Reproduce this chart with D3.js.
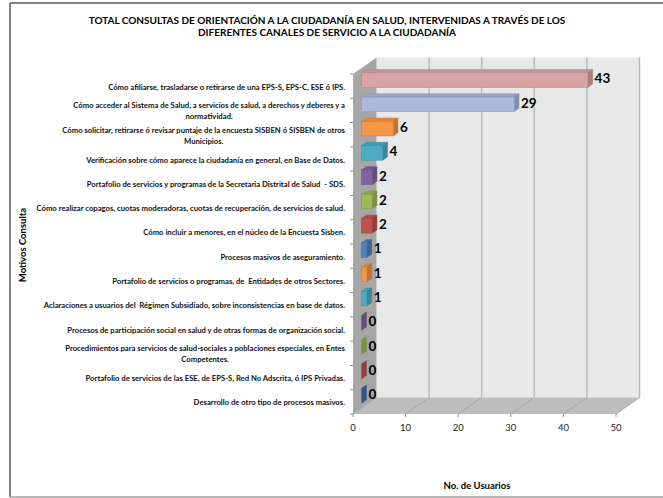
<!DOCTYPE html>
<html>
<head>
<meta charset="utf-8">
<script src="https://cdnjs.cloudflare.com/ajax/libs/d3/7.8.5/d3.min.js"></script>
<style>
  body { margin: 0; background: #fff; }
  svg { font-family: Lato, "Open Sans", sans-serif; }
  text { white-space: pre; }
</style>
</head>
<body>
<svg width="663" height="498"></svg>
<script>
const width = 663;
const height = 498;

// data
const categories = [
    "Cómo afiliarse, trasladarse o retirarse de una EPS-S, EPS-C, ESE ó IPS.",
    "Cómo acceder al Sistema de Salud, a servicios de salud, a derechos y deberes y a\nnormatividad.",
    "Cómo solicitar, retirarse ó revisar puntaje de la encuesta SISBEN ó SISBEN de otros\nMunicipios.",
    "Verificación sobre cómo aparece la ciudadanía en general, en Base de Datos.",
    "Portafolio de servicios y programas de la Secretaria Distrital de Salud  - SDS.",
    "Cómo realizar copagos, cuotas moderadoras, cuotas de recuperación, de servicios de salud.",
    "Cómo incluir a menores, en el núcleo de la Encuesta Sisben.",
    "Procesos masivos de aseguramiento.",
    "Portafolio de servicios o programas, de  Entidades de otros Sectores.",
    "Aclaraciones a usuarios del  Régimen Subsidiado, sobre inconsistencias en base de datos.",
    "Procesos de participación social en salud y de otras formas de organización social.",
    "Procedimientos para servicios de salud-sociales a poblaciones especiales, en Entes\nCompetentes.",
    "Portafolio de servicios de las ESE, de EPS-S, Red No Adscrita, ó IPS Privadas.",
    "Desarrollo de otro tipo de procesos masivos."
];
const values = [43, 29, 6, 4, 2, 2, 2, 1, 1, 1, 0, 0, 0, 0];
const barColors = ["#d9a3a3", "#aab9dc", "#f79646", "#4bacc6", "#8064a2", "#9bbb59", "#c0504d",
                   "#4f81bd", "#f79646", "#4bacc6", "#8064a2", "#9bbb59", "#c0504d", "#3f6ea8"];
const xTicks = [0, 10, 20, 30, 40, 50];
const titleLines = [
    "TOTAL CONSULTAS DE ORIENTACIÓN A LA CIUDADANÍA EN SALUD, INTERVENIDAS A TRAVÉS DE LOS",
    "DIFERENTES CANALES DE SERVICIO A LA CIUDADANÍA"
];
const yTitle = "Motivos Consulta";
const xTitle = "No. de Usuarios";

const svg = d3.select("svg");

// 3d depth offset of the plot box
const DX = 23.5, DY = -16.5;
const z0 = 0.37, z1 = 0.57;

const x = d3.scaleLinear().domain([0, 50]).range([353, 616]);
const y = d3.scaleBand().domain(categories).range([74, 414]).paddingInner(0.4).paddingOuter(0.2);
const yTop = 74, yBot = 414;

// outer frame
svg.append("line").attr("x1", 10).attr("y1", 3).attr("x2", 670).attr("y2", 3)
    .attr("stroke", "#595959").attr("stroke-width", 1.5);
svg.append("line").attr("x1", 10).attr("y1", 3).attr("x2", 10).attr("y2", 497)
    .attr("stroke", "#595959").attr("stroke-width", 1.5);
svg.append("line").attr("x1", 10).attr("y1", 497).attr("x2", 670).attr("y2", 497)
    .attr("stroke", "#a0a0a0").attr("stroke-width", 1.5);

// title
svg.append("g").selectAll("text")
    .data(titleLines)
    .enter().append("text")
    .attr("x", 327)
    .attr("y", (d, i) => 24 + i * 11.5)
    .attr("text-anchor", "middle")
    .attr("font-size", 10)
    .attr("font-weight", "bold")
    .text(d => d);

// back wall
svg.append("rect")
    .attr("x", x(0) + DX).attr("y", yTop + DY)
    .attr("width", x(50) - x(0)).attr("height", yBot - yTop)
    .attr("fill", "#e8e8e8");

// side wall
svg.append("polygon")
    .attr("points", [[x(0), yTop], [x(0) + DX, yTop + DY], [x(0) + DX, yBot + DY], [x(0), yBot]].join(" "))
    .attr("fill", "#a6a6a6");

// floor
svg.append("polygon")
    .attr("points", [[x(0), yBot], [x(50), yBot], [x(50) + DX, yBot + DY], [x(0) + DX, yBot + DY]].join(" "))
    .attr("fill", "#bdbdbd");

// grid on back wall and floor
svg.append("g").selectAll("line")
    .data(xTicks.slice(1))
    .enter().append("line")
    .attr("x1", d => x(d) + DX).attr("x2", d => x(d) + DX)
    .attr("y1", yTop + DY).attr("y2", yBot + DY)
    .attr("stroke", "#bababa").attr("stroke-width", 1.5);

svg.append("g").selectAll("line")
    .data(xTicks)
    .enter().append("line")
    .attr("x1", d => x(d)).attr("y1", yBot)
    .attr("x2", d => x(d) + DX).attr("y2", yBot + DY)
    .attr("stroke", "#a8a8a8").attr("stroke-width", 1);

// axis ticks
svg.append("g").selectAll("line")
    .data(xTicks)
    .enter().append("line")
    .attr("x1", d => x(d)).attr("x2", d => x(d))
    .attr("y1", yBot).attr("y2", yBot + 3)
    .attr("stroke", "#888");

const step = y.step();
svg.append("g").selectAll("line")
    .data(d3.range(categories.length + 1))
    .enter().append("line")
    .attr("x1", x(0) - 3).attr("x2", x(0))
    .attr("y1", i => yTop + i * step).attr("y2", i => yTop + i * step)
    .attr("stroke", "#888");

svg.append("g").selectAll("text")
    .data(xTicks)
    .enter().append("text")
    .attr("x", d => x(d))
    .attr("y", yBot + 17)
    .attr("text-anchor", "middle")
    .attr("font-size", 9.5)
    .attr("fill", "#222")
    .text(d => d);

// bars
const bars = svg.append("g").selectAll("g")
    .data(values.map((v, i) => ({ v, cat: categories[i], color: barColors[i] })))
    .enter().append("g");

bars.each(function (d) {
    const g = d3.select(this);
    const xl = x(0) + z0 * DX;
    const xr = x(d.v) + z0 * DX;
    const yt = y(d.cat) + z0 * DY;
    const yb = yt + y.bandwidth();
    const dx = (z1 - z0) * DX, dy = (z1 - z0) * DY;
    const c = d3.color(d.color);
    g.append("polygon")
        .attr("points", [[xl, yt], [xl + dx, yt + dy], [xr + dx, yt + dy], [xr, yt]].join(" "))
        .attr("fill", c.darker(0.3)).attr("stroke", c.darker(0.6)).attr("stroke-width", 0.5);
    g.append("polygon")
        .attr("points", [[xr, yt], [xr + dx, yt + dy], [xr + dx, yb + dy], [xr, yb]].join(" "))
        .attr("fill", c.darker(0.7)).attr("stroke", c.darker(0.9)).attr("stroke-width", 0.5);
    if (d.v > 0) {
        g.append("rect")
            .attr("x", xl).attr("y", yt)
            .attr("width", xr - xl).attr("height", yb - yt)
            .attr("fill", c).attr("stroke", c.darker(0.5)).attr("stroke-width", 0.6);
    }
    g.append("text")
        .attr("x", x(d.v) + z1 * DX + 2)
        .attr("y", y(d.cat) + y.bandwidth() / 2 + (z0 + z1) / 2 * DY + 5)
        .attr("font-size", 13.5)
        .attr("font-weight", "bold")
        .text(d.v);
});

// category labels
const labels = svg.append("g").selectAll("text")
    .data(categories)
    .enter().append("text")
    .attr("font-size", 7.7)
    .attr("font-weight", "bold")
    .attr("fill", "#111")
    .attr("text-anchor", "middle");

labels.each(function (d) {
    const t = d3.select(this);
    const lines = d.split("\n");
    const cy = y(d) + y.bandwidth() / 2 + 1;
    lines.forEach((l, i) => {
        t.append("tspan")
            .attr("y", cy + 2.5 + (i - (lines.length - 1) / 2) * 11)
            .text(l);
    });
    const w = d3.max(t.selectAll("tspan").nodes(), n => n.getComputedTextLength());
    t.selectAll("tspan").attr("x", 345 - w / 2);
});

// axis titles
svg.append("text")
    .attr("transform", "translate(26,245) rotate(-90)")
    .attr("text-anchor", "middle")
    .attr("font-size", 9.5)
    .attr("font-weight", "bold")
    .text(yTitle);

svg.append("text")
    .attr("x", 477)
    .attr("y", 489)
    .attr("text-anchor", "middle")
    .attr("font-size", 9.5)
    .attr("font-weight", "bold")
    .text(xTitle);
</script>
</body>
</html>
